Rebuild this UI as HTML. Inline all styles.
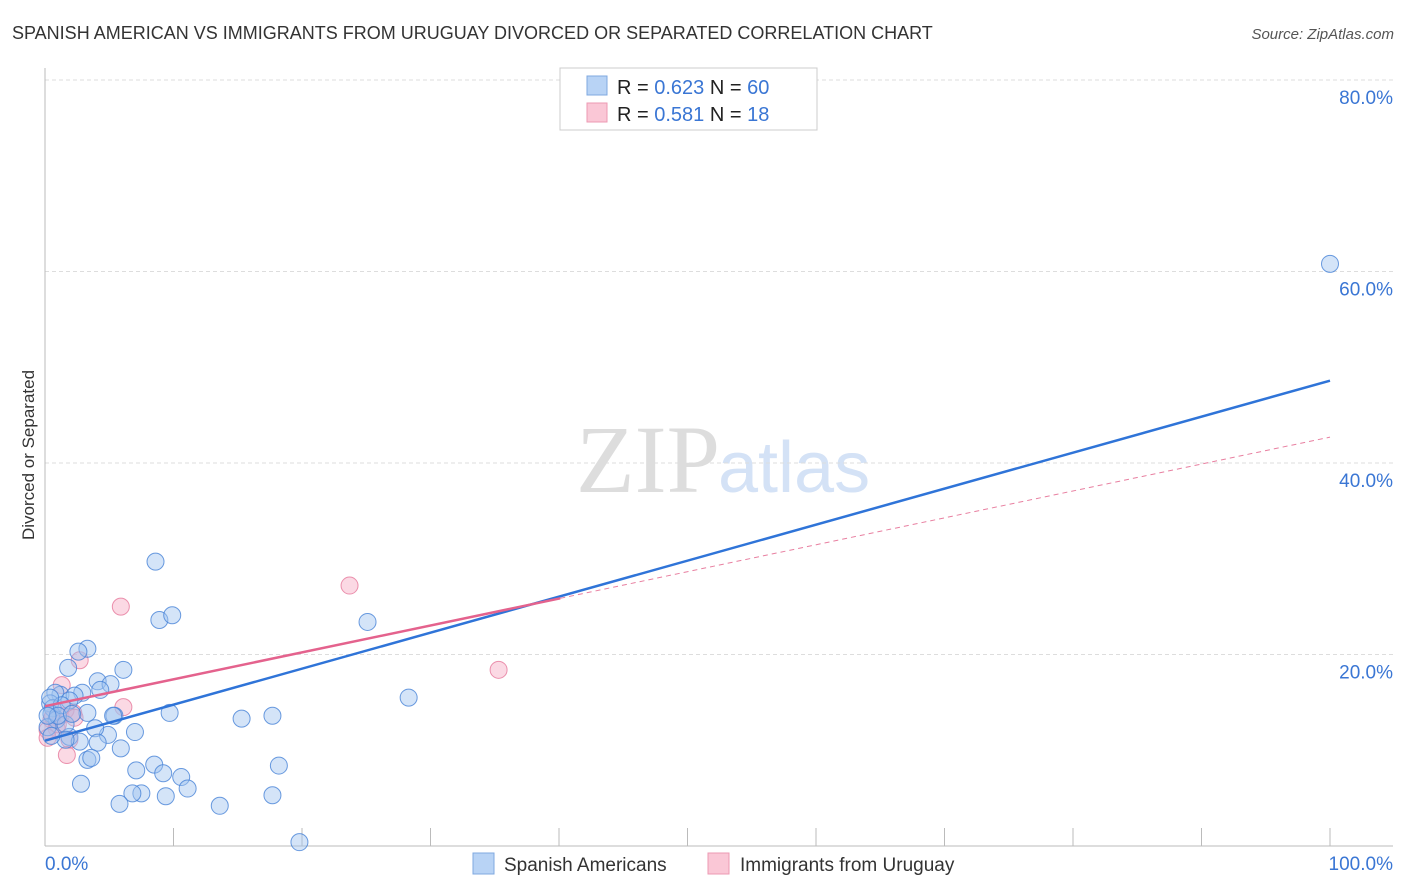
<!DOCTYPE html>
<html><head><meta charset="utf-8"><style>
body{margin:0;background:#fff;font-family:"Liberation Sans",sans-serif;}
svg{display:block}
</style></head><body>
<svg id="c" width="1406" height="892" xmlns="http://www.w3.org/2000/svg">
<text x="12" y="39" font-size="18" fill="#333">SPANISH AMERICAN VS IMMIGRANTS FROM URUGUAY DIVORCED OR SEPARATED CORRELATION CHART</text>
<text x="1394" y="39" font-size="15" fill="#555" font-style="italic" text-anchor="end">Source: ZipAtlas.com</text>
<text x="34" y="455" font-size="17" fill="#333" text-anchor="middle" transform="rotate(-90 34 455)">Divorced or Separated</text>
<text x="720" y="492" font-size="96" fill="#ddd" font-family="Liberation Serif,serif" text-anchor="end">ZIP</text>
<text x="718" y="492" font-size="72" fill="#d4e2f6">atlas</text>
<g id="grid"></g><g id="pts"></g><g id="lines"></g>
<g>
<rect x="560" y="68" width="257" height="62" fill="#fff" stroke="#ccc"/>
<rect x="587" y="76" width="20" height="19" fill="#b8d3f5" stroke="#7fa8e0"/>
<rect x="587" y="103" width="20" height="19" fill="#fac7d6" stroke="#ec9ab3"/>
<text x="617" y="94" font-size="20" fill="#222">R = <tspan fill="#3a76d4">0.623</tspan>   N = <tspan fill="#3a76d4">60</tspan></text>
<text x="617" y="121" font-size="20" fill="#222">R =  <tspan fill="#3a76d4">0.581</tspan>   N =  <tspan fill="#3a76d4">18</tspan></text>
</g>
<g>
<rect x="473" y="853" width="21" height="21" fill="#b8d3f5" stroke="#7fa8e0"/>
<text x="504" y="871" font-size="19" fill="#333">Spanish Americans</text>
<rect x="708" y="853" width="21" height="21" fill="#fac7d6" stroke="#ec9ab3"/>
<text x="740" y="871" font-size="19" fill="#333">Immigrants from Uruguay</text>
</g>
</svg>
<script>
const yTicks=[20,40,60,80];
const xTickLabels=["0.0%","100.0%"];
const blueX=[8.6,8.9,9.9,25.1,28.3,15.3,17.7,18.2,17.7,13.6,19.8,100,3.3,2.6,1.8,6.1,4.1,5.1,2.9,1.2,0.8,2.3,1.9,0.4,0.6,3.3,5.4,9.7,7.0,4.9,3.9,1.9,2.7,4.1,5.9,0.5,0.9,1.6,0.2,3.3,3.6,8.5,7.1,9.2,10.6,11.1,9.4,7.5,6.8,5.8,2.8,1.6,1.3,4.3,1.0,0.4,2.1,5.3,0.2,0.5];
const blueY=[29.7,23.6,24.1,23.4,15.5,13.3,13.6,8.4,5.3,4.2,0.4,60.8,20.6,20.3,18.6,18.4,17.2,16.9,16.0,15.8,16.0,15.7,15.2,14.9,14.4,13.9,13.6,13.9,11.9,11.6,12.3,11.4,10.9,10.8,10.2,13.8,13.2,12.7,12.4,9.0,9.2,8.5,7.9,7.6,7.2,6.0,5.2,5.5,5.5,4.4,6.5,11.1,14.7,16.3,13.6,15.5,13.8,13.6,13.6,11.5];
const pinkX=[5.9,23.7,35.3,2.7,1.3,6.1,2.2,1.2,0.5,0.2,0.9,1.9,1.7,0.6,1.6,0.2,1.0,2.3];
const pinkY=[25.0,27.2,18.4,19.4,16.8,14.5,13.9,13.6,13.2,12.1,12.3,11.1,9.5,13.5,14.2,11.3,12.7,13.4];
const blueTrend=[11.0,48.6];
const pinkTrend=[14.6,42.7];
const pinkSolidEnd=40.1;
const NS="http://www.w3.org/2000/svg";
const X0=45,X1=1330,Y0=846,YPX=9.575;
function sx(v){return X0+(X1-X0)*v/100;}
function sy(v){return Y0-v*YPX;}
function mk(tag,attrs,parent){const e=document.createElementNS(NS,tag);for(const k in attrs)e.setAttribute(k,attrs[k]);parent.appendChild(e);return e;}
const grid=document.getElementById('grid');
yTicks.forEach(t=>{
  const l=mk('line',{x1:45,x2:1393,y1:sy(t),y2:sy(t),stroke:'#ddd','stroke-dasharray':'4,3'},grid);
  
  
  const tx=mk('text',{x:1393,y:sy(t)+24,'font-size':19,fill:'#3a76d4','text-anchor':'end'},grid);
  tx.textContent=t.toFixed(1)+'%';
  
  
});
const ax=mk('line',{x1:45,x2:45,y1:68,y2:846,stroke:'#bbb'},grid);


const bx=mk('line',{x1:45,x2:1393,y1:846,y2:846,stroke:'#bbb'},grid);


for(let i=1;i<=10;i++){
  const tk=mk('line',{x1:sx(i*10),x2:sx(i*10),y1:828,y2:846,stroke:'#bbb'},grid);
  
  
}
[[0,'start'],[100,'end']].forEach((p,i)=>{
  const t=mk('text',{x:i?1393:45,y:870,'font-size':19,fill:'#3a76d4','text-anchor':p[1]},grid);
  t.textContent=xTickLabels[i];
  
  
});
const pts=document.getElementById('pts');
pinkX.forEach((x,i)=>{
  const c=mk('circle',{cx:sx(x),cy:sy(pinkY[i]),r:8.5,fill:'rgba(246,170,195,0.45)',stroke:'rgba(230,120,155,0.8)'},pts);
  
  
});
blueX.forEach((x,i)=>{
  const c=mk('circle',{cx:sx(x),cy:sy(blueY[i]),r:8.5,fill:'rgba(160,196,240,0.45)',stroke:'rgba(70,130,215,0.8)'},pts);
  
  
});
const lines=document.getElementById('lines');
const pm=pinkTrend[0]+(pinkTrend[1]-pinkTrend[0])*pinkSolidEnd/100;
const pd=mk('line',{x1:sx(pinkSolidEnd),y1:sy(pm),x2:sx(100),y2:sy(pinkTrend[1]),stroke:'#e87fa0','stroke-width':1,'stroke-dasharray':'5,4'},lines);


const bl=mk('line',{x1:sx(0),y1:sy(blueTrend[0]),x2:sx(100),y2:sy(blueTrend[1]),stroke:'#2f74d8','stroke-width':2.5},lines);


const pl=mk('line',{x1:sx(0),y1:sy(pinkTrend[0]),x2:sx(pinkSolidEnd),y2:sy(pm),stroke:'#e4628d','stroke-width':2.5},lines);


</script>
</body></html>
